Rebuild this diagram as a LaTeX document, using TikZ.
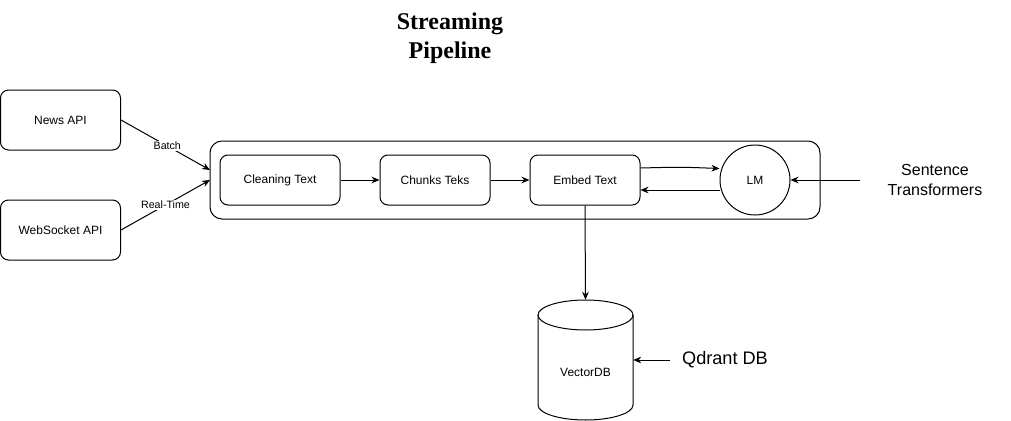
\documentclass[tikz,border=0pt]{standalone}
\usepackage{fontspec}
\setmainfont{Liberation Sans}
\newfontfamily\titlefont{Liberation Serif}
\usetikzlibrary{arrows.meta,shapes.geometric}
\begin{document}
\begin{tikzpicture}[x=0.75pt,y=-0.75pt,
  box/.style={draw,rounded corners=6pt,minimum width=90pt,minimum height=45pt,font=\fontsize{9}{11}\selectfont,line width=0.75pt},
  inbox/.style={draw,rounded corners=6pt,minimum width=90pt,minimum height=37.5pt,font=\fontsize{9}{11}\selectfont,line width=0.75pt},
  arr/.style={-{Stealth[length=6pt,width=5pt]},line width=0.75pt},
  lbl/.style={font=\fontsize{8}{10}\selectfont,fill=white,inner sep=1pt},
  big/.style={font=\fontsize{12}{15}\selectfont,align=center},
  cyl/.style={line width=0.75pt}]
\useasboundingbox (0,0) rectangle (1011,421);
\node[font=\titlefont\bfseries\fontsize{18}{21.5}\selectfont,align=center] (title) at (450,38) {Streaming\\Pipeline};
\node[box] (news) at (60.5,120) {News API};
\node[box] (ws) at (60.5,230) {WebSocket API};
\node[draw,rounded corners=9pt,minimum width=457.5pt,minimum height=58.5pt,line width=0.75pt] (cont) at (515,180) {};
\node[inbox] (clean) at (280,180) {Cleaning Text};
\node[inbox,minimum width=82.5pt] (chunk) at (435,180) {Chunks Teks};
\node[inbox,minimum width=82.5pt] (embed) at (585,180) {Embed Text};
\node[draw,circle,minimum size=52.5pt,inner sep=0pt,font=\fontsize{9}{11}\selectfont,line width=0.75pt] (lm) at (755,180) {LM};
\node[big] (st) at (935,180) {Sentence\\Transformers};
\coordinate (stin) at (860,180);
% cylinder
\draw[cyl] (538,315) arc[start angle=180,end angle=360,x radius=47.5,y radius=-15]
  arc[start angle=0,end angle=180,x radius=47.5,y radius=-15] -- cycle;
\draw[cyl] (538,315) -- (538,405) arc[start angle=180,end angle=360,x radius=47.5,y radius=-15] -- (633,315);
\node[minimum width=71.25pt,minimum height=90pt,inner sep=0pt] (vdb) at (585.5,360) {};
\node[font=\fontsize{9}{11}\selectfont] (vdbt) at (585.5,372) {VectorDB};
\node[font=\fontsize{13.6}{16}\selectfont] (qd) at (725,360) {Qdrant DB};
\coordinate (qdin) at (670,360);
\coordinate (nin) at (210,170);
\coordinate (win) at (210,180);
\draw[arr] (news.east) -- node[lbl,pos=0.52] {Batch} (nin);
\draw[arr] (ws.east) -- node[lbl] {Real-Time} (win);
\draw[arr] (clean) -- (chunk);
\draw[arr] (chunk) -- (embed);
\draw[arr] (embed.east |- 0,168) .. controls (680,167) .. (lm.west |- 0,168.5);
\draw[arr] (lm.west |- 0,190) -- (embed.east |- 0,190);
\draw[arr] (stin) -- (lm.east);
\draw[arr] (embed.south) -- (vdb.north);
\draw[arr] (qdin) -- (vdb.east);
\end{tikzpicture}
\end{document}
